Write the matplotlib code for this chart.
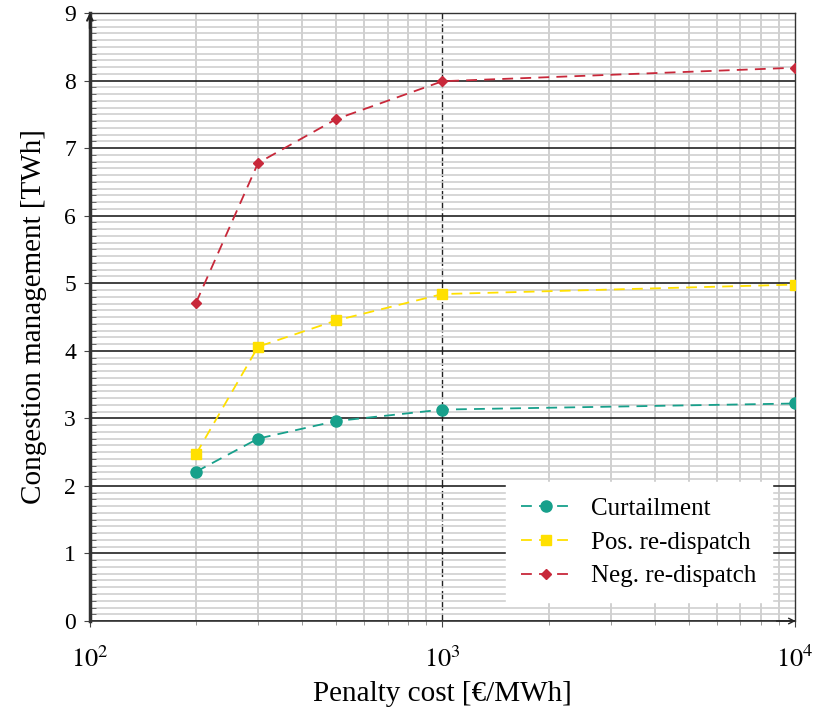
import matplotlib.pyplot as plt
import numpy as np
from matplotlib.ticker import FixedLocator, NullFormatter

plt.rcParams['font.family'] = ['Liberation Serif', 'DejaVu Serif']
plt.rcParams['mathtext.fontset'] = 'stix'

penalty = [200, 300, 500, 1000, 10000]
curtailment = [2.21, 2.70, 2.96, 3.13, 3.22]
pos_redispatch = [2.47, 4.06, 4.45, 4.84, 4.98]
neg_redispatch = [4.71, 6.78, 7.43, 7.99, 8.19]

fig = plt.figure(figsize=(8.17, 7.07), dpi=100)
ax = fig.add_axes([0.110, 0.1216, 0.863, 0.86])

ax.set_xscale('log')
ax.set_xlim(100, 10000)
ax.set_ylim(0, 9)

# grid
ax.set_yticks(range(0, 10))
ax.yaxis.set_minor_locator(FixedLocator(np.arange(0, 9.01, 0.1)))
ax.grid(which='minor', axis='y', color='#d0d0d0', lw=1.2, zorder=0)
ax.grid(which='major', axis='y', color='#222222', lw=1.2, zorder=1)
ax.grid(which='minor', axis='x', color='#c8c8c8', lw=1.2, zorder=0)
ax.axvline(1000, color='#222222', lw=1.0, ls=(0, (6, 2)), zorder=1)

ax.plot(penalty, curtailment, ls='--', dashes=(6, 4), color='#17a08b', marker='o',
        ms=8, lw=1.3, label='Curtailment', zorder=3)
ax.plot(penalty, pos_redispatch, ls='--', dashes=(6, 4), color='#ffe000', marker='s',
        ms=7.5, lw=1.3, label='Pos. re-dispatch', zorder=3)
ax.plot(penalty, neg_redispatch, ls='--', dashes=(6, 4), color='#c8283a', marker='D',
        ms=5, lw=1.3, label='Neg. re-dispatch', zorder=3)

for s in ['top', 'right']:
    ax.spines[s].set_color('#333333')
    ax.spines[s].set_linewidth(1.0)
ax.spines['left'].set_linewidth(2.5)
ax.spines['left'].set_color('#333333')
ax.spines['bottom'].set_linewidth(1.2)
ax.spines['bottom'].set_color('#333333')

# axis arrows
ax.annotate('', xy=(0, 1.005), xytext=(0, 0.97), xycoords='axes fraction',
            arrowprops=dict(arrowstyle='->', color='#222222', lw=1.5), clip_on=False)
ax.annotate('', xy=(1.005, 0), xytext=(0.97, 0), xycoords='axes fraction',
            arrowprops=dict(arrowstyle='->', color='#222222', lw=1.0), clip_on=False)

ax.tick_params(axis='both', which='major', direction='out', length=4, labelsize=17,
               color='#444444', pad=6)
ax.tick_params(axis='y', which='minor', direction='in', length=4, color='#555555')
ax.tick_params(axis='x', which='minor', direction='out', length=3, color='#888888')
ax.xaxis.set_minor_formatter(NullFormatter())
ax.set_xticks([100, 1000, 10000])
ax.set_xticklabels(['$10^2$', '$10^3$', '$10^4$'])
ax.tick_params(axis='x', labelsize=19, pad=14)

ax.set_xlabel('Penalty cost [€/MWh]', fontsize=21, labelpad=6)
ax.set_ylabel('Congestion management [TWh]', fontsize=21, labelpad=12)

leg = ax.legend(loc='lower right', bbox_to_anchor=(0.985, 0.01), fontsize=18,
                frameon=True, fancybox=False, framealpha=1, edgecolor='white',
                handlelength=2.0, labelspacing=0.45, borderpad=0.6)

fig.savefig('out.png', dpi=100)
